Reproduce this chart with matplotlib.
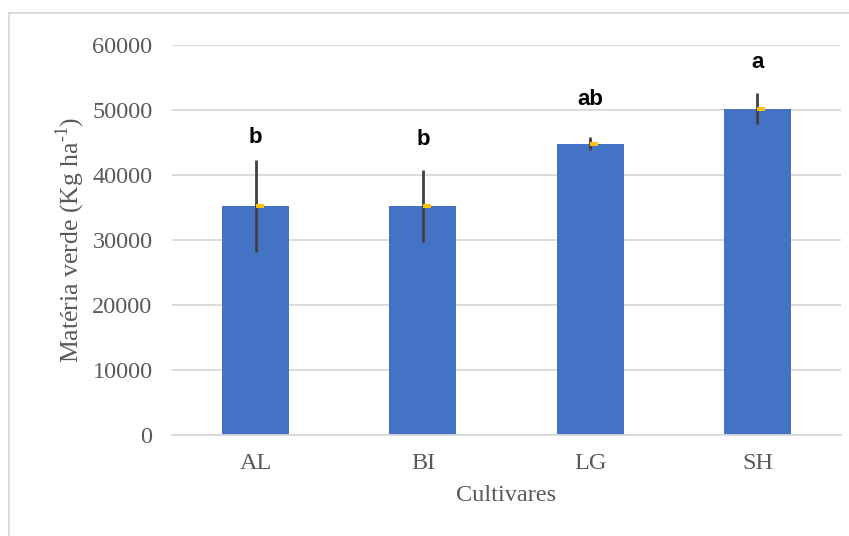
import numpy as np
import matplotlib
matplotlib.use('Agg')
import matplotlib.pyplot as plt
from matplotlib.patches import Rectangle

# green matter per cultivar, with standard error and Tukey letters
cultivars = ['AL', 'BI', 'LG', 'SH']
green_matter = [35230, 35230, 44770, 50200]
std_err = [7070, 5540, 1000, 2430]
letters = ['b', 'b', 'ab', 'a']
letter_y = [44900, 44600, 50750, 56450]

plt.rcParams['font.family'] = ['Liberation Serif', 'DejaVu Serif']
plt.rcParams['mathtext.fontset'] = 'custom'
plt.rcParams['mathtext.rm'] = 'Liberation Serif'

GRAY = '#595959'

fig = plt.figure(figsize=(8.49, 5.36), dpi=100)
ax = fig.add_axes([172/849, 101/536, 669/849, 390/536])

x = np.arange(len(cultivars))
ax.bar(x, green_matter, width=0.4, color='#4472C4', zorder=2)
ax.errorbar(x, green_matter, yerr=std_err, fmt='none', ecolor='#404040',
            elinewidth=2, capsize=0, zorder=3)

# little mean tick to the right of each error bar
tick = [(0, -0.25), (1, -0.25), (1, 0.25), (0, 0.25), (0, -0.25)]
ax.plot(x, green_matter, ls='none', marker=tick, markersize=11.5,
        color='#FFC000', markeredgewidth=0, zorder=4)

for xi, yi, s in zip(x, letter_y, letters):
    ax.text(xi, yi, s, ha='center', va='baseline', fontsize=16,
            fontweight='bold', family='Liberation Sans', color='black')

ax.set_xlim(-0.5, len(cultivars) - 0.5)
ax.set_ylim(0, 60000)
ax.set_yticks(np.arange(0, 60001, 10000))
ax.set_xticks(x)
ax.set_xticklabels(cultivars)
ax.yaxis.grid(True, color='#D9D9D9', lw=1.3, zorder=0)
ax.set_axisbelow(True)
for side in ['top', 'right', 'left']:
    ax.spines[side].set_visible(False)
ax.spines['bottom'].set_color('#D9D9D9')
ax.spines['bottom'].set_linewidth(1.3)
ax.tick_params(axis='both', length=0, labelsize=17.5, colors=GRAY)
ax.tick_params(axis='y', pad=14)
ax.tick_params(axis='x', pad=13)

ax.set_xlabel('Cultivares', fontsize=17.5, color=GRAY, labelpad=8)
ax.set_ylabel(r'Matéria verde (Kg ha$^{\text{-1}}$)', fontsize=18.5, color=GRAY)
ax.yaxis.set_label_coords(-0.127, 0.5)

# chart border
fig.patches.append(Rectangle((9/849, -0.1), 1.0, (536 - 13)/536 + 0.1,
                             transform=fig.transFigure, fill=False,
                             edgecolor='#D9D9D9', lw=1.3))

fig.savefig('out.png', dpi=100)
